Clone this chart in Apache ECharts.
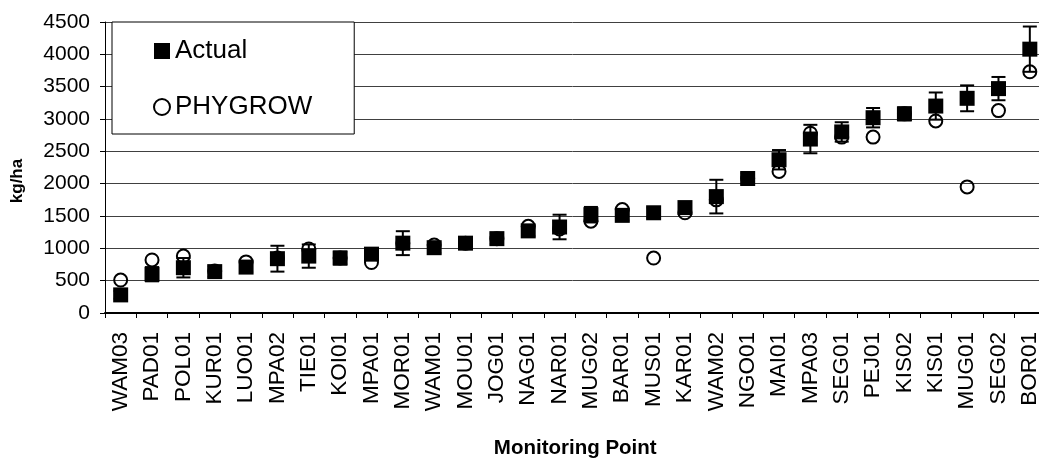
<!DOCTYPE html>
<html>
<head>
<meta charset="utf-8">
<script src="https://cdn.jsdelivr.net/npm/echarts@6/dist/echarts.min.js"></script>
<style>
html,body{margin:0;padding:0;background:#fff;}
#chart{width:1039px;height:460px;}
</style>
</head>
<body>
<div id="chart"></div>
<script>
const categories = ['WAM03','PAD01','POL01','KUR01','LUO01','MPA02','TIE01','KOI01','MPA01','MOR01','WAM01','MOU01','JOG01','NAG01','NAR01','MUG02','BAR01','MUS01','KAR01','WAM02','NGO01','MAI01','MPA03','SEG01','PEJ01','KIS02','KIS01','MUG01','SEG02','BOR01'];
const actual = [280,600,700,640,710,840,880,850,910,1080,1010,1080,1150,1270,1330,1520,1510,1550,1630,1800,2080,2370,2690,2800,3020,3080,3200,3320,3470,4080];
const actualErr = [60,110,150,80,80,200,180,100,80,185,80,80,80,80,190,120,80,80,80,260,80,150,220,150,150,100,210,200,180,350];
const phygrow = [510,820,880,650,790,850,990,850,780,1080,1050,1080,1150,1340,1300,1420,1600,850,1550,1750,2080,2190,2780,2720,2720,3080,2970,1950,3130,3730];
const yTicks = {min:0, max:4500, interval:500};

const FONT = "'Liberation Sans', Arial, sans-serif";
const chart = echarts.init(document.getElementById('chart'), null, {renderer:'canvas'});

const errData = categories.map((c,i)=>[i, actual[i]-actualErr[i], actual[i]+actualErr[i]]);

chart.setOption({
  animation:false,
  backgroundColor:'#fff',
  textStyle:{fontFamily:FONT, color:'#000'},
  grid:{left:105, top:22, width:940.5, height:291, containLabel:false, outerBoundsMode:'none'},
  legend:{
    orient:'vertical', left:112, top:22,
    backgroundColor:'#fff', borderColor:'#000', borderWidth:1,
    padding:[14,42,12,41], itemGap:26,
    itemWidth:16, itemHeight:16,
    textStyle:{fontSize:26, fontFamily:FONT, color:'#000', lineHeight:30},
    data:[
      {name:'Actual', icon:'rect', itemStyle:{color:'#000', opacity:1}},
      {name:'PHYGROW', icon:'circle', itemStyle:{color:'rgba(0,0,0,0)', borderColor:'#000', borderWidth:2, opacity:1}}
    ]
  },
  xAxis:{
    type:'category', data:categories, boundaryGap:true,
    axisLine:{lineStyle:{color:'#000', width:2}},
    axisTick:{show:true, length:5, alignWithLabel:false, lineStyle:{color:'#000'}},
    axisLabel:{rotate:90, margin:19, fontSize:22.5, fontFamily:FONT, color:'#000', interval:0},
    splitLine:{show:false},
    name:'Monitoring Point', nameLocation:'middle', nameGap:125,
    nameTextStyle:{fontSize:20.5, fontWeight:'bold', fontFamily:FONT, color:'#000'}
  },
  yAxis:{
    type:'value', min:yTicks.min, max:yTicks.max, interval:yTicks.interval,
    axisLine:{show:true, lineStyle:{color:'#000', width:1}},
    axisTick:{show:true, length:5, lineStyle:{color:'#000'}},
    axisLabel:{margin:15, fontSize:21, fontFamily:FONT, color:'#000', formatter:function(v){return String(v);}},
    splitLine:{show:true, lineStyle:{color:'#404040', width:1}}
  },
  graphic:[{
    type:'text', x:17, y:181, rotation:Math.PI/2,
    style:{text:'kg/ha', fontSize:17, fontWeight:'bold', fontFamily:FONT, fill:'#000', align:'center', verticalAlign:'middle'}
  }],
  series:[
    {
      name:'ActualErr', type:'custom', z:3,
      encode:{x:0, y:[1,2]},
      data:errData,
      renderItem:function(params, api){
        const x = api.value(0);
        const lo = api.coord([x, api.value(1)]);
        const hi = api.coord([x, api.value(2)]);
        const hw = 7;
        const st = {stroke:'#000', lineWidth:2};
        return {type:'group', children:[
          {type:'line', shape:{x1:lo[0], y1:lo[1], x2:hi[0], y2:hi[1]}, style:st},
          {type:'line', shape:{x1:lo[0]-hw, y1:lo[1], x2:lo[0]+hw, y2:lo[1]}, style:st},
          {type:'line', shape:{x1:hi[0]-hw, y1:hi[1], x2:hi[0]+hw, y2:hi[1]}, style:st}
        ]};
      },
      silent:true
    },
    {
      name:'Actual', type:'scatter', symbol:'rect', symbolSize:15, z:4,
      itemStyle:{color:'#000', opacity:1},
      data:actual
    },
    {
      name:'PHYGROW', type:'scatter', symbol:'circle', symbolSize:13, z:5,
      itemStyle:{color:'rgba(0,0,0,0)', borderColor:'#000', borderWidth:2, opacity:1},
      data:phygrow
    }
  ]
});
</script>
</body>
</html>
